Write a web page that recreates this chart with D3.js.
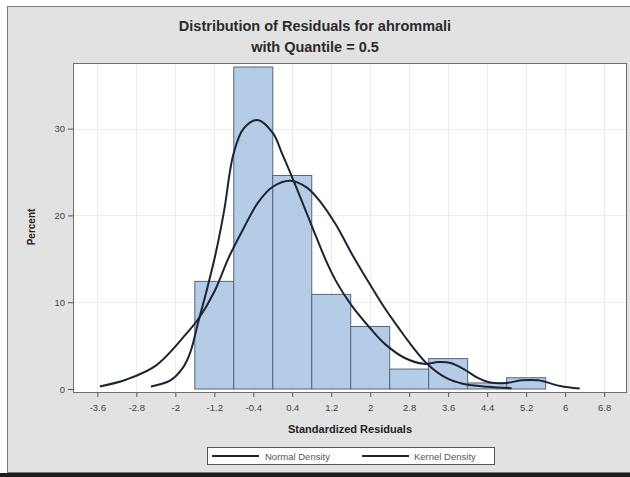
<!DOCTYPE html>
<html>
<head>
<meta charset="utf-8">
<script src="https://cdn.jsdelivr.net/npm/d3@7"></script>
<style>
  html, body { margin: 0; padding: 0; background: #ffffff; }
  svg { display: block; }
  text { font-family: "Liberation Sans", Arial, sans-serif; }
</style>
</head>
<body>
<svg id="chart" width="630" height="477"></svg>
<script>
// Histogram of standardized residuals (bin width 0.8)
const binCenters = [-1.2, -0.4, 0.4, 1.2, 2, 2.8, 3.6, 4.4, 5.2];
const binPercents = [12.4, 37.1, 24.6, 10.9, 7.2, 2.3, 3.5, 0.7, 1.3];
const binWidth = 0.8;

// Fitted normal density curve (percent scale)
const normalX = [-3.55, -3.0, -2.4, -1.8, -1.5, -1.2, -0.9, -0.6, -0.3, 0.0, 0.36, 0.7, 1.0, 1.3, 1.65, 2.0, 2.3, 2.6, 2.85, 3.15, 3.55, 3.9, 4.4, 4.9];
const normalY = [0.3, 1.1, 2.7, 6.2, 8.3, 11.2, 15.2, 18.5, 21.5, 23.3, 24.0, 23.2, 21.4, 18.9, 15.3, 12.0, 9.3, 6.9, 5.0, 3.0, 1.3, 0.6, 0.25, 0.1];

// Kernel density estimate (percent scale)
const kernelX = [-2.5, -2.1, -1.85, -1.7, -1.53, -1.35, -1.18, -1.0, -0.81, -0.6, -0.31, 0.0, 0.2, 0.42, 0.7, 0.9, 1.1, 1.3, 1.62, 2.0, 2.3, 2.7, 3.1, 3.4, 3.65, 3.92, 4.2, 4.46, 4.8, 5.1, 5.45, 5.9, 6.3];
const kernelY = [0.3, 1.0, 2.4, 4.1, 7.7, 11.5, 15.4, 20.5, 27.0, 30.0, 31.0, 29.5, 27.0, 24.1, 20.2, 17.4, 14.7, 12.4, 9.6, 7.0, 5.2, 3.6, 2.9, 3.1, 3.0, 2.3, 1.3, 0.75, 0.7, 1.0, 1.0, 0.35, 0.05];

// Axis ticks
const xTicks = [-3.6, -2.8, -2, -1.2, -0.4, 0.4, 1.2, 2, 2.8, 3.6, 4.4, 5.2, 6, 6.8];
const yTicks = [0, 10, 20, 30];

const titleLines = ["Distribution of Residuals for ahrommali", "with Quantile = 0.5"];
const xLabel = "Standardized Residuals";
const yLabel = "Percent";
const legendItems = ["Normal Density", "Kernel Density"];

// Layout
const plot = { left: 73, right: 627, top: 63, bottom: 393 };
const xDomain = [-4.1, 7.27];
const yDomain = [-0.46, 37.56];

const svg = d3.select("#chart");

// Outer panel
svg.append("rect").attr("x", 7.5).attr("y", 6.5).attr("width", 640).attr("height", 466)
  .attr("fill", "#e2e2e2").attr("stroke", "#7a7a7a").attr("stroke-width", 1);
svg.append("rect").attr("x", 0).attr("y", 473).attr("width", 630).attr("height", 4)
  .attr("fill", "#1e1e1e");

const x = d3.scaleLinear().domain(xDomain).range([plot.left, plot.right]);
const y = d3.scaleLinear().domain(yDomain).range([plot.bottom, plot.top]);

// Plot background
svg.append("rect")
  .attr("x", plot.left).attr("y", plot.top)
  .attr("width", plot.right - plot.left).attr("height", plot.bottom - plot.top)
  .attr("fill", "#ffffff");

// Grid lines
const grid = svg.append("g").attr("stroke", "#ececec").attr("stroke-width", 1);
grid.selectAll("line.vx").data(xTicks).join("line")
  .attr("x1", d => Math.round(x(d)) + 0.5).attr("x2", d => Math.round(x(d)) + 0.5)
  .attr("y1", plot.top).attr("y2", plot.bottom);
grid.selectAll("line.hy").data(yTicks.filter(d => d > 0)).join("line")
  .attr("x1", plot.left).attr("x2", plot.right)
  .attr("y1", d => Math.round(y(d)) + 0.5).attr("y2", d => Math.round(y(d)) + 0.5);

// Histogram bars
svg.append("g").selectAll("rect").data(binCenters).join("rect")
  .attr("x", d => x(d - binWidth / 2))
  .attr("width", d => x(d + binWidth / 2) - x(d - binWidth / 2))
  .attr("y", (d, i) => y(binPercents[i]))
  .attr("height", (d, i) => y(0) - y(binPercents[i]))
  .attr("fill", "#b5cce6")
  .attr("stroke", "#56667c")
  .attr("stroke-width", 1);

// Density curves
const line = d3.line().x(d => x(d[0])).y(d => y(d[1])).curve(d3.curveCatmullRom.alpha(0.5));
const normalPts = normalX.map((v, i) => [v, normalY[i]]);
const kernelPts = kernelX.map((v, i) => [v, kernelY[i]]);
svg.append("path").datum(normalPts).attr("d", line)
  .attr("fill", "none").attr("stroke", "#1c2433").attr("stroke-width", 2);
svg.append("path").datum(kernelPts).attr("d", line)
  .attr("fill", "none").attr("stroke", "#1c2433").attr("stroke-width", 2);

// Plot frame
svg.append("rect")
  .attr("x", plot.left + 0.5).attr("y", plot.top + 0.5)
  .attr("width", plot.right - plot.left - 1).attr("height", plot.bottom - plot.top - 1)
  .attr("fill", "none").attr("stroke", "#6e6e6e").attr("stroke-width", 1);

// X axis
const xAxis = d3.axisBottom(x).tickValues(xTicks).tickSize(4).tickPadding(7)
  .tickFormat(d => String(d));
const gx = svg.append("g").attr("transform", `translate(0,${plot.bottom})`).call(xAxis);
gx.select(".domain").remove();
gx.selectAll("line").attr("stroke", "#555");
gx.selectAll("text").attr("font-size", 9.5).attr("fill", "#444")
  .attr("font-family", "'Liberation Sans', Arial, sans-serif");

// Y axis
const yAxis = d3.axisLeft(y).tickValues(yTicks).tickSize(5).tickPadding(3);
const gy = svg.append("g").attr("transform", `translate(${plot.left},0)`).call(yAxis);
gy.select(".domain").remove();
gy.selectAll("line").attr("stroke", "#555");
gy.selectAll("text").attr("font-size", 9.5).attr("fill", "#444")
  .attr("font-family", "'Liberation Sans', Arial, sans-serif");

// Titles
svg.selectAll("text.title").data(titleLines).join("text")
  .attr("class", "title")
  .attr("x", 315).attr("y", (d, i) => 31 + i * 21)
  .attr("text-anchor", "middle")
  .attr("font-size", 14.5).attr("font-weight", "bold").attr("fill", "#2a2a2a")
  .text(d => d);

// Axis labels
svg.append("text")
  .attr("x", (plot.left + plot.right) / 2).attr("y", 433)
  .attr("text-anchor", "middle")
  .attr("font-size", 11).attr("font-weight", "bold").attr("fill", "#222")
  .text(xLabel);
svg.append("text")
  .attr("transform", "translate(35,227) rotate(-90)")
  .attr("text-anchor", "middle")
  .attr("font-size", 10).attr("font-weight", "bold").attr("fill", "#222")
  .text(yLabel);

// Legend
const legend = svg.append("g");
legend.append("rect").attr("x", 207.5).attr("y", 447.5).attr("width", 287).attr("height", 17)
  .attr("fill", "#ffffff").attr("stroke", "#555").attr("stroke-width", 1);
const legendPos = [{ lx: 212, tx: 265 }, { lx: 362, tx: 414 }];
legendItems.forEach((name, i) => {
  const p = legendPos[i];
  legend.append("line")
    .attr("x1", p.lx).attr("x2", p.lx + 47).attr("y1", 456).attr("y2", 456)
    .attr("stroke", "#1c2433").attr("stroke-width", 2);
  legend.append("text")
    .attr("x", p.tx).attr("y", 459.5)
    .attr("font-size", 9.5).attr("fill", "#555")
    .text(name);
});
</script>
</body>
</html>
